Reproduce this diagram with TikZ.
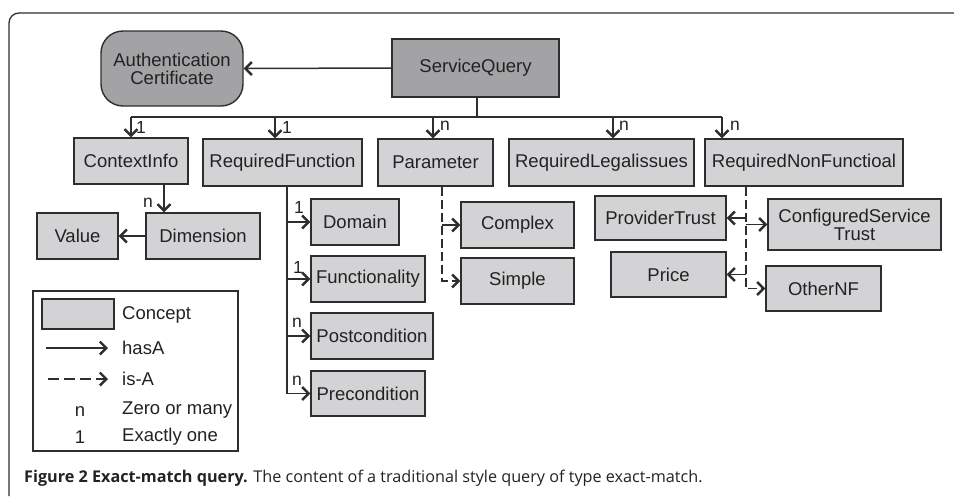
\documentclass[tikz,border=0pt]{standalone}
\usepackage{fontspec}
\setmainfont{Liberation Sans}
\newfontfamily\capfont{Open Sans}
\usetikzlibrary{arrows.meta,calc}
\definecolor{linecol}{HTML}{2E2E2E}
\definecolor{boxfill}{HTML}{D3D3D5}
\definecolor{darkfill}{HTML}{A3A3A5}
\definecolor{txtcol}{HTML}{222222}
\begin{document}
\begin{tikzpicture}[x=1pt,y=-1pt,
  box/.style={draw=linecol, fill=boxfill, line width=1.4pt, inner sep=0pt,
    font=\fontsize{18.5}{21}\selectfont, text=txtcol, align=center},
  darkbox/.style={box, fill=darkfill},
  conn/.style={draw=linecol, line width=1.5pt},
  hasA/.style={conn, -{Straight Barb[length=6.5pt,width=13pt,line width=2.4pt]}},
  isA/.style={hasA, dash pattern=on 9pt off 4pt},
  lab/.style={inner sep=0pt, font=\fontsize{17.5}{20}\selectfont, text=txtcol},
  legtxt/.style={inner sep=0pt, anchor=west, font=\fontsize{18.5}{21}\selectfont, text=txtcol}]
\useasboundingbox (0,0) rectangle (954,496);
% frame
\draw[draw=linecol, line width=1.3pt] (9,496) -- (9,23) arc[start angle=180, end angle=270, radius=10] -- (954,13);

% nodes
\node[darkbox, rounded corners=22pt, minimum width=142, minimum height=75] (auth) at (172,68.5) {Authentication\\[-3pt]Certificate};
\node[darkbox, minimum width=167, minimum height=58] (sq) at (475.5,68) {ServiceQuery};
\node[box, minimum width=114, minimum height=46] (ctx) at (131,161) {ContextInfo};
\node[box, minimum width=159, minimum height=47] (rf) at (282.5,162.5) {RequiredFunction};
\node[box, minimum width=115, minimum height=47] (par) at (435.5,162.5) {Parameter};
\node[box, minimum width=185, minimum height=47] (rl) at (601.5,162.5) {RequiredLegalissues};
\node[box, minimum width=198, minimum height=47] (rnf) at (804,162.5) {RequiredNonFunctioal};
\node[box, minimum width=81, minimum height=46] (val) at (77.5,236) {Value};
\node[box, minimum width=114, minimum height=46] (dim) at (203,236) {Dimension};
\node[box, minimum width=88, minimum height=46] (dom) at (355,222) {Domain};
\node[box, minimum width=114, minimum height=46] (fun) at (368,279) {Functionality};
\node[box, minimum width=122, minimum height=46] (post) at (372,336) {Postcondition};
\node[box, minimum width=114, minimum height=45] (pre) at (368,393.5) {Precondition};
\node[box, minimum width=113, minimum height=46] (cpx) at (517.5,225) {Complex};
\node[box, minimum width=113, minimum height=46] (smp) at (517.5,281) {Simple};
\node[box, minimum width=131, minimum height=44] (pt) at (660.5,218) {ProviderTrust};
\node[box, minimum width=173, minimum height=51] (cst) at (854.5,224.5) {ConfiguredService\\[-3pt]Trust};
\node[box, minimum width=115, minimum height=45] (price) at (668.5,274.5) {Price};
\node[box, minimum width=115, minimum height=45] (onf) at (823.5,288.5) {OtherNF};

% top connectors
\draw[hasA] (sq.west) -- (auth.east);
\coordinate (b1) at (131,117);
\coordinate (b2) at (275,117);
\coordinate (b3) at (433,117);
\coordinate (b4) at (613,117);
\coordinate (b5) at (722,117);
\draw[conn] (sq.south -| 477,0) -- (477,117);
\draw[conn] (b1) -- (b5);
\draw[hasA] (b1) -- (b1 |- ctx.north);
\draw[hasA] (b2) -- (b2 |- rf.north);
\draw[hasA] (b3) -- (b3 |- par.north);
\draw[hasA] (b4) -- (b4 |- rl.north);
\draw[hasA] (b5) -- (b5 |- rnf.north);
\node[lab] (l1) at (141,127) {1};
\node[lab] (l2) at (287,127) {1};
\node[lab] (l3) at (445,126) {n};
\node[lab] (l4) at (624,126) {n};
\node[lab] (l5) at (735,126) {n};

% context info
\coordinate (cx) at (164,0);
\draw[hasA] (ctx.south -| cx) -- (dim.north -| cx);
\node[lab] (l6) at (148,203) {n};
\draw[hasA] (dim.west) -- (val.east);

% required function
\coordinate (rx) at (287,0);
\draw[hasA] (rf.south -| rx) |- (pre.west);
\draw[hasA] (rx |- dom.west) -- (dom.west);
\draw[hasA] (rx |- fun.west) -- (fun.west);
\draw[hasA] (rx |- post.west) -- (post.west);
\node[lab] (l7) at (299,207) {1};
\node[lab] (l8) at (298,267) {1};
\node[lab] (l9) at (297,323) {n};
\node[lab] (l10) at (297,381) {n};

% parameter
\coordinate (px) at (442,0);
\draw[isA] (par.south -| px) |- (smp.west);
\draw[hasA] (px |- cpx.west) -- (cpx.west);

% non functional
\coordinate (nx) at (746,0);
\draw[isA] (rnf.south -| nx) |- (onf.west);
\draw[hasA] (nx |- pt.east) -- (pt.east);
\draw[hasA] (nx |- cst.west) -- (cst.west);
\draw[hasA] (nx |- price.east) -- (price.east);

% legend
\node[draw=linecol, line width=1.2pt, minimum width=205, minimum height=160, inner sep=0pt] (leg) at (135.5,371) {};
\node[box, minimum width=72, minimum height=30] (lc) at (78,314) {};
\node[legtxt] (t1) at (122,315) {Concept};
\coordinate (ha1) at (46,348);
\coordinate (ha2) at (108,348);
\draw[hasA] (ha1) -- (ha2);
\node[legtxt] (t2) at (122,348) {hasA};
\coordinate (ia1) at (48,379);
\coordinate (ia2) at (108,379);
\draw[isA, dash pattern=on 11pt off 5pt] (ia1) -- (ia2);
\node[legtxt] (t3) at (122,379) {is-A};
\node[lab, font=\fontsize{18.5}{21}\selectfont] (t4n) at (80,412) {n};
\node[legtxt] (t4) at (122,410) {Zero or many};
\node[lab, font=\fontsize{18.5}{21}\selectfont] (t5n) at (80,437) {1};
\node[legtxt] (t5) at (122,437) {Exactly one};

% caption
\node[anchor=base west, inner sep=0pt, font=\capfont\fontsize{16.2}{19}\selectfont, text=txtcol] (cap) at (24,482) {\textbf{Figure 2 Exact-match query.} The content of a traditional style query of type exact-match.};
\end{tikzpicture}
\end{document}
